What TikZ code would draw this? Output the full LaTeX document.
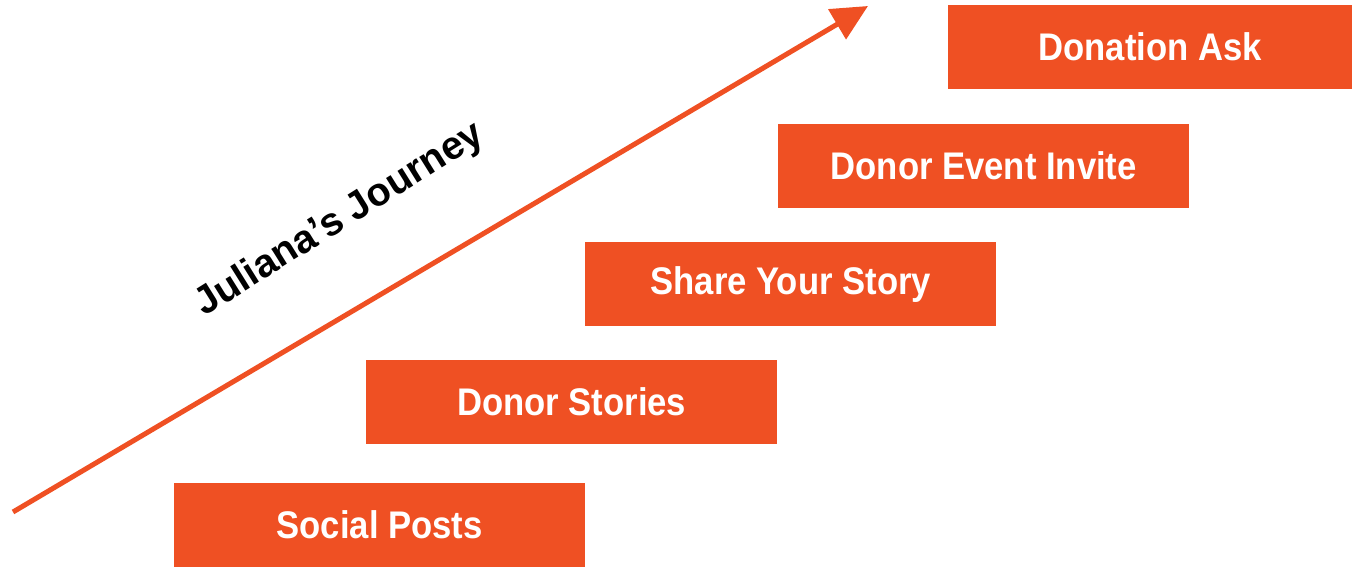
\documentclass[tikz,border=0pt]{standalone}
\usepackage{fontspec}
\usetikzlibrary{arrows.meta}
\newfontfamily\stepfont[FakeStretch=0.9]{Liberation Sans}
\newfontfamily\titlefont{Liberation Sans}
\definecolor{journeyorange}{HTML}{EF5023}
\tikzset{
  x=1pt, y=-1pt,
  stepbox/.style={fill=journeyorange, draw=none, anchor=north west,
    minimum width=411pt, minimum height=84pt, inner sep=0pt,
    text=white, font=\stepfont\fontsize{38.5}{42}\selectfont\bfseries},
  journeyline/.style={draw=journeyorange, line width=5pt,
    -{Triangle[length=36pt,width=34pt]}},
}
\begin{document}
\begin{tikzpicture}
  \useasboundingbox (0,0) rectangle (1352,567);
  % steps of the journey
  \node[stepbox] (social) at (174,483) {Social Posts};
  \node[stepbox] (stories) at (366,360) {Donor Stories};
  \node[stepbox] (share) at (585,242) {Share Your Story};
  \node[stepbox] (event) at (778,124) {Donor Event Invite};
  \node[stepbox, minimum width=404pt] (ask) at (948,5) {Donation Ask};
  % rising arrow
  \coordinate (start) at (13,512);
  \coordinate (tip) at (868,6);
  \draw[journeyline] (start) -- (tip);
  \node[rotate=32, inner sep=0pt, font=\titlefont\fontsize{39.5}{44}\selectfont\bfseries]
    (title) at (340,220) {Juliana’s Journey};
\end{tikzpicture}
\end{document}
